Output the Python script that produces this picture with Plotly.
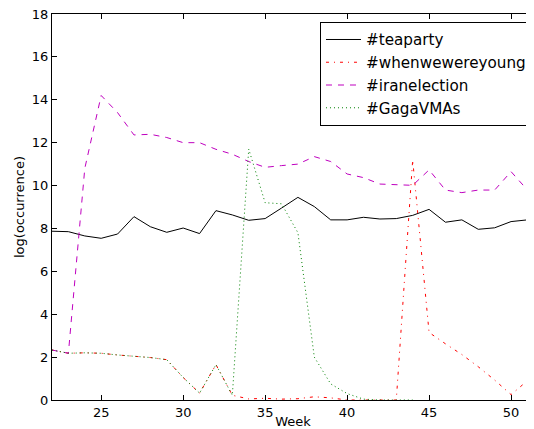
import plotly.graph_objects as go

weeks = list(range(22, 52))

teaparty = [7.87, 7.85, 7.65, 7.54, 7.74, 8.55, 8.08, 7.82, 8.02, 7.76,
            8.83, 8.63, 8.38, 8.46, 8.95, 9.45, 9.02, 8.40, 8.40, 8.52,
            8.44, 8.46, 8.61, 8.89, 8.29, 8.40, 7.96, 8.03, 8.32, 8.40]

whenwewereyoung = [2.33, 2.18, 2.20, 2.18, 2.10, 2.05, 1.98, 1.88, 1.05, 0.32,
                   1.65, 0.22, 0.05, 0.08, 0.04, 0.06, 0.15, 0.10, 0.0, 0.0,
                   0.0, 0.0, 11.2, 3.15, 2.62, 2.12, 1.55, 0.93, 0.25, 0.90]

iranelection = [2.33, 2.18, 10.8, 14.2, 13.4, 12.36, 12.39, 12.24, 12.0, 12.0,
                11.69, 11.46, 11.12, 10.85, 10.93, 11.0, 11.35, 11.12, 10.54, 10.37,
                10.07, 10.04, 10.01, 10.73, 9.79, 9.67, 9.79, 9.79, 10.65, 9.79]

gagavmas = [2.33, 2.18, 2.20, 2.18, 2.10, 2.05, 1.98, 1.88, 1.05, 0.32,
            1.65, 0.22, 11.7, 9.2, 9.15, 7.8, 2.0, 0.75, 0.3, 0.04,
            0.0, 0.0, 0.0, None, None, None, None, None, None, None]

series = [
    ("#teaparty", teaparty, "#000000", "solid"),
    ("#whenwewereyoung", whenwewereyoung, "#ff0000", "3px,5px,1px,5px"),
    ("#iranelection", iranelection, "#bf00bf", "6px,6px"),
    ("#GagaVMAs", gagavmas, "#008000", "1px,3px"),
]

fig = go.Figure()
for name, vals, color, dash in series:
    fig.add_trace(go.Scatter(x=weeks, y=vals, mode="lines", name=name,
                             line=dict(color=color, width=1, dash=dash)))

font = "DejaVu Sans"
fig.update_layout(
    width=526, height=421,
    margin=dict(l=44, r=0, t=6, b=29, autoexpand=False),
    paper_bgcolor="white", plot_bgcolor="white",
    font=dict(family=font, size=13, color="black"),
    showlegend=True,
    legend=dict(x=0.556, y=0.979, xanchor="left", yanchor="top",
                bordercolor="black", borderwidth=1, bgcolor="white",
                font=dict(family=font, size=15.2, color="black"),
                tracegroupgap=0, itemwidth=35),
    xaxis=dict(range=[22, 51.4], tickvals=[25, 30, 35, 40, 45, 50],
               ticks="inside", ticklen=5, tickcolor="black",
               showline=True, linecolor="black", linewidth=1, mirror="ticks",
               showgrid=False, zeroline=False, ticklabeloverflow="allow",
               title=dict(text="Week", standoff=2, font=dict(size=13)),
               tickfont=dict(size=13)),
    yaxis=dict(range=[0, 18], tickvals=list(range(0, 19, 2)),
               ticks="inside", ticklen=5, tickcolor="black",
               showline=True, linecolor="black", linewidth=1, mirror=False,
               showgrid=False, zeroline=False, ticklabeloverflow="allow",
               title=dict(text="log(occurrence)", standoff=4, font=dict(size=13)),
               tickfont=dict(size=13)),
)

fig.write_html("out.html")
